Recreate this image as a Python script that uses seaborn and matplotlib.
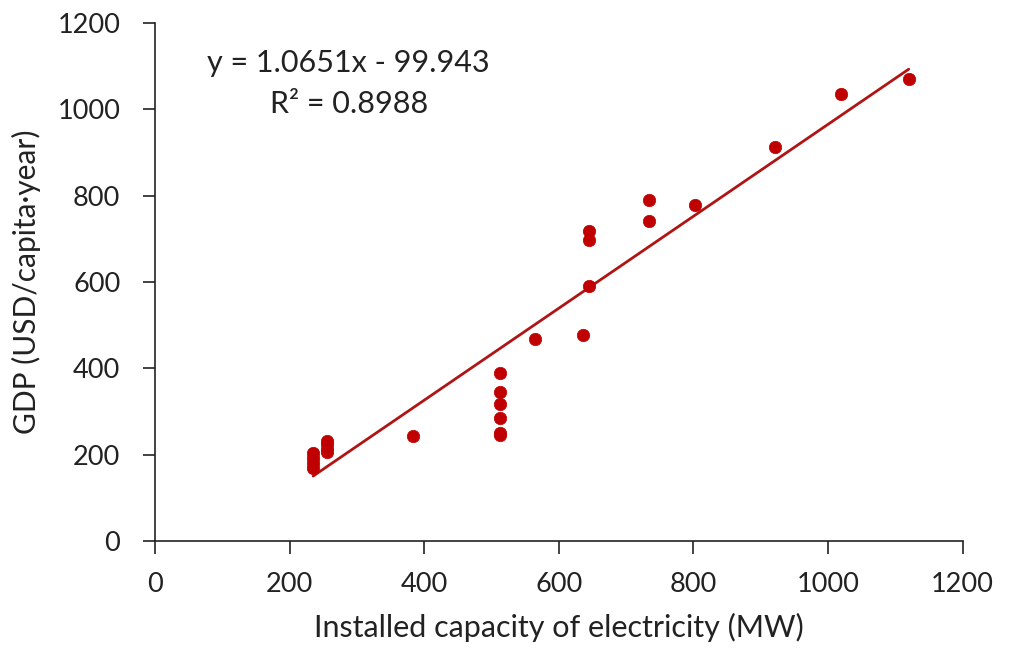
import numpy as np
import pandas as pd
import matplotlib
matplotlib.use('Agg')
import matplotlib.pyplot as plt
import seaborn as sns

# values
capacity = [235, 235, 235, 235, 255, 255, 255, 255, 383,
            513, 513, 513, 513, 513, 513, 565, 636, 645, 645, 645,
            734, 734, 803, 921, 1020, 1120]
gdp = [170, 180, 192, 203, 205, 213, 224, 232, 243,
       390, 346, 317, 286, 251, 245, 468, 477, 591, 697, 718,
       790, 742, 778, 913, 1036, 1070]

slope = 1.0651
intercept = -99.943
r_squared = 0.8988

x_ticks = [0, 200, 400, 600, 800, 1000, 1200]
y_ticks = [0, 200, 400, 600, 800, 1000, 1200]

df = pd.DataFrame({'capacity': capacity, 'gdp': gdp})

sns.set_style('white')
plt.rcParams['font.family'] = ['Lato', 'DejaVu Sans']

fig = plt.figure(figsize=(10.09, 6.51), dpi=100)
ax = fig.add_axes([0.1536, 0.169, 0.8004, 0.7957])

red = '#C00000'
sns.scatterplot(data=df, x='capacity', y='gdp', ax=ax, color=red, s=80,
                edgecolor=red, linewidth=0.5, zorder=3)

line_x = np.array([min(capacity), max(capacity)])
ax.plot(line_x, slope * line_x + intercept, color='#B01515', linewidth=2, zorder=2)

ax.text(288, 1107, f'y = {slope}x - {abs(intercept)}', ha='center', va='center',
        fontsize=22, color='#222222')
ax.text(288, 1012, f'R² = {r_squared}', ha='center', va='center',
        fontsize=22, color='#222222')

ax.set_xlim(0, 1200)
ax.set_ylim(0, 1200)
ax.set_xticks(x_ticks)
ax.set_yticks(y_ticks)
ax.tick_params(axis='both', direction='out', length=9, width=1.2, color='#222222',
               labelsize=19.5, labelcolor='#222222', bottom=True, left=True)
ax.tick_params(axis='x', pad=13)
ax.tick_params(axis='y', pad=16)
for side in ['top', 'right']:
    ax.spines[side].set_visible(False)
for side in ['left', 'bottom']:
    ax.spines[side].set_color('#222222')
    ax.spines[side].set_linewidth(1.2)

ax.set_xlabel('Installed capacity of electricity (MW)', fontsize=22, color='#222222', labelpad=12)
ax.set_ylabel('GDP (USD/capita·year)', fontsize=21.5, color='#222222', labelpad=12)

fig.savefig('out.png', dpi=100)
